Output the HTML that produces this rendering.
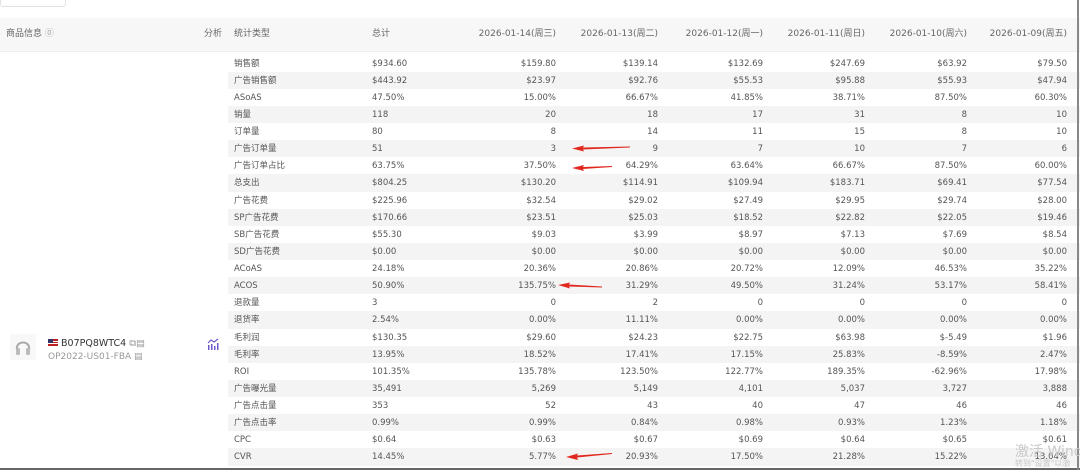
<!DOCTYPE html>
<html><head><meta charset="utf-8">
<style>
body{margin:0;width:1080px;height:473px;overflow:hidden;background:#fff;font-family:"DejaVu Sans","Noto Sans CJK SC",sans-serif;color:#555;font-size:8.5px;position:relative}
.a{position:absolute;white-space:nowrap}
.r{position:absolute;left:228px;right:0;height:17.13px}
.g{background:#f4f4f4}
.c{position:absolute;top:1px;line-height:17px;height:17px;white-space:nowrap}
.n{text-align:right;width:100px}
.h{line-height:12px;font-size:9px}
</style></head><body>
<div class="a" style="left:0;top:-4px;width:64px;height:9px;border:1px solid #e2e2e2;border-radius:3px"></div>
<div class="a" style="left:0;top:18px;width:1080px;height:33px;background:#f7f7f7;border-bottom:1px solid #eee"></div>
<div class="a h" style="left:6px;top:28px;color:#666">商品信息 <span style="color:#aaa">⓪</span></div>
<div class="a h" style="left:204px;top:28px;color:#666">分析</div>
<div class="a h" style="left:234px;top:28px;color:#666">统计类型</div>
<div class="a h" style="left:372px;top:28px;color:#666">总计</div>
<div id="hd"></div>
<div id="rows"></div>
<div class="a" style="left:10px;top:334px;width:26px;height:26px;background:#f8f8f8"><svg width="26" height="26"><path d="M7,16 C5,6 21,6 19,16" stroke="#aaa" stroke-width="2" fill="none"/><rect x="6" y="14" width="4" height="7" rx="1.5" fill="#bbb"/><rect x="16" y="14" width="4" height="7" rx="1.5" fill="#bbb"/></svg></div>
<div class="a" style="left:48px;top:338px;color:#333;font-size:9.5px;line-height:12px"><span style="display:inline-block;width:10px;height:7px;background:linear-gradient(#b22 0 2px,#fff 2px 3px,#b22 3px 4px,#fff 4px 5px,#b22 5px);position:relative;vertical-align:0"><span style="position:absolute;left:0;top:0;width:5px;height:4px;background:#336"></span></span> B07PQ8WTC4 <span style="color:#999">⧉▤</span></div>
<div class="a" style="left:48px;top:351px;color:#999;font-size:9px;line-height:12px">OP2022-US01-FBA ▤</div>
<svg class="a" style="left:207px;top:338px" width="12" height="12"><path d="M1,5 L4,2 L7,4 L11,1" stroke="#6a5acd" fill="none" stroke-width="1.2"/><rect x="1" y="7" width="1.5" height="5" fill="#6a5acd"/><rect x="4" y="6" width="1.5" height="6" fill="#6a5acd"/><rect x="7" y="8" width="1.5" height="4" fill="#6a5acd"/><rect x="10" y="5" width="1.5" height="7" fill="#6a5acd"/></svg>
<div class="a" style="left:0;top:468px;width:1080px;height:2px;background:#666"></div>
<div class="a" style="left:1077px;top:0;width:2px;height:470px;background:#888"></div>
<div class="a" style="left:1015px;top:441px;color:#c8c8c8;font-size:14px">激活 Windo</div>
<div class="a" style="left:1015px;top:458px;color:#c8c8c8;font-size:8px">转到"设置"以激</div>
<svg class="a" style="left:0;top:0" width="1080" height="473">
<g fill="#e0281e">
<path d="M572,148.5 L584,145.5 L583,147.5 L630,146.5 L630,147.5 L583,149.5 L584,151.5z"/>
<path d="M572,168 L584,165 L583,167 L612,166 L612,167 L583,169 L584,171z"/>
<path d="M558,285 L570,282.5 L569,284.5 L602,286.5 L602,287.5 L569,286.5 L570,288.5z"/>
<path d="M566,457 L578,453.5 L577,455.5 L612,453 L612,454 L577,457.5 L578,460z"/>
</g></svg>
<script>
var dates=["2026-01-14(周三)","2026-01-13(周二)","2026-01-12(周一)","2026-01-11(周日)","2026-01-10(周六)","2026-01-09(周五)"];
var ends=[556,658,763,865,967,1067];
var h="";dates.forEach(function(d,i){h+='<div class="a h" style="top:28px;color:#666;left:'+(ends[i]-140)+'px;width:140px;text-align:right">'+d+'</div>'});
document.getElementById('hd').innerHTML=h;
var D=[
["销售额","$934.60","$159.80","$139.14","$132.69","$247.69","$63.92","$79.50"],
["广告销售额","$443.92","$23.97","$92.76","$55.53","$95.88","$55.93","$47.94"],
["ASoAS","47.50%","15.00%","66.67%","41.85%","38.71%","87.50%","60.30%"],
["销量","118","20","18","17","31","8","10"],
["订单量","80","8","14","11","15","8","10"],
["广告订单量","51","3","9","7","10","7","6"],
["广告订单占比","63.75%","37.50%","64.29%","63.64%","66.67%","87.50%","60.00%"],
["总支出","$804.25","$130.20","$114.91","$109.94","$183.71","$69.41","$77.54"],
["广告花费","$225.96","$32.54","$29.02","$27.49","$29.95","$29.74","$28.00"],
["SP广告花费","$170.66","$23.51","$25.03","$18.52","$22.82","$22.05","$19.46"],
["SB广告花费","$55.30","$9.03","$3.99","$8.97","$7.13","$7.69","$8.54"],
["SD广告花费","$0.00","$0.00","$0.00","$0.00","$0.00","$0.00","$0.00"],
["ACoAS","24.18%","20.36%","20.86%","20.72%","12.09%","46.53%","35.22%"],
["ACOS","50.90%","135.75%","31.29%","49.50%","31.24%","53.17%","58.41%"],
["退款量","3","0","2","0","0","0","0"],
["退货率","2.54%","0.00%","11.11%","0.00%","0.00%","0.00%","0.00%"],
["毛利润","$130.35","$29.60","$24.23","$22.75","$63.98","$-5.49","$1.96"],
["毛利率","13.95%","18.52%","17.41%","17.15%","25.83%","-8.59%","2.47%"],
["ROI","101.35%","135.78%","123.50%","122.77%","189.35%","-62.96%","17.98%"],
["广告曝光量","35,491","5,269","5,149","4,101","5,037","3,727","3,888"],
["广告点击量","353","52","43","40","47","46","46"],
["广告点击率","0.99%","0.99%","0.84%","0.98%","0.93%","1.23%","1.18%"],
["CPC","$0.64","$0.63","$0.67","$0.69","$0.64","$0.65","$0.61"],
["CVR","14.45%","5.77%","20.93%","17.50%","21.28%","15.22%","13.04%"]];
var s="";D.forEach(function(r,i){
 s+='<div class="r'+(i%2?' g':'')+'" style="top:'+(54.5+i*17.13)+'px">';
 s+='<div class="c" style="left:6px">'+r[0]+'</div><div class="c" style="left:144px">'+r[1]+'</div>';
 for(var j=0;j<6;j++)s+='<div class="c n" style="left:'+(ends[j]-228-100)+'px">'+r[j+2]+'</div>';
 s+='</div>';});
document.getElementById('rows').innerHTML=s;
</script>
</body></html>
